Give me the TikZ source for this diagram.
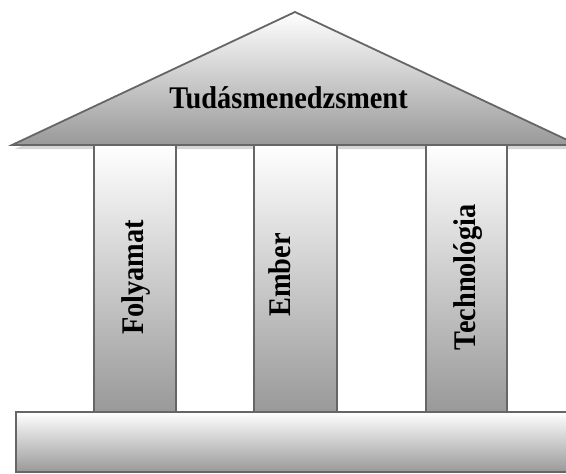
\documentclass[tikz,border=0pt]{standalone}
\usepackage{fontspec}
\setmainfont{Liberation Serif}[FakeStretch=0.9]
\definecolor{edge}{HTML}{666666}
\definecolor{shade}{HTML}{999999}
\definecolor{shadowc}{HTML}{D6D6D6}
\begin{document}
\begin{tikzpicture}[x=1pt,y=-1pt,
  part/.style={draw=edge, line width=1.8pt, top color=white, bottom color=shade},
  label/.style={font=\fontsize{31.5}{36}\selectfont\bfseries, inner sep=0pt}]
\useasboundingbox (0,0) rectangle (566,474);
\clip (0,0) rectangle (566,474);
% roof shadow
\fill[shadowc] (15,149) -- (298,16) -- (581,149) -- cycle;
% columns
\path[part] (94,145) rectangle (176,412);
\path[part] (254,145) rectangle (337,412);
\path[part] (426,145) rectangle (507,412);
% roof
\path[part, line join=miter] (12,145) -- (295,12) -- (578,145) -- cycle;
% base
\path[part] (16,412) rectangle (585,472);
% labels
\node[label, anchor=base] (roof) at (288.5,108) {Tudásmenedzsment};
\node[label, anchor=base, rotate=90] (p1) at (143,277.5) {Folyamat};
\node[label, anchor=base, rotate=90] (p2) at (290,275) {Ember};
\node[label, anchor=base, rotate=90] (p3) at (475,277.5) {Technológia};
\end{tikzpicture}
\end{document}
